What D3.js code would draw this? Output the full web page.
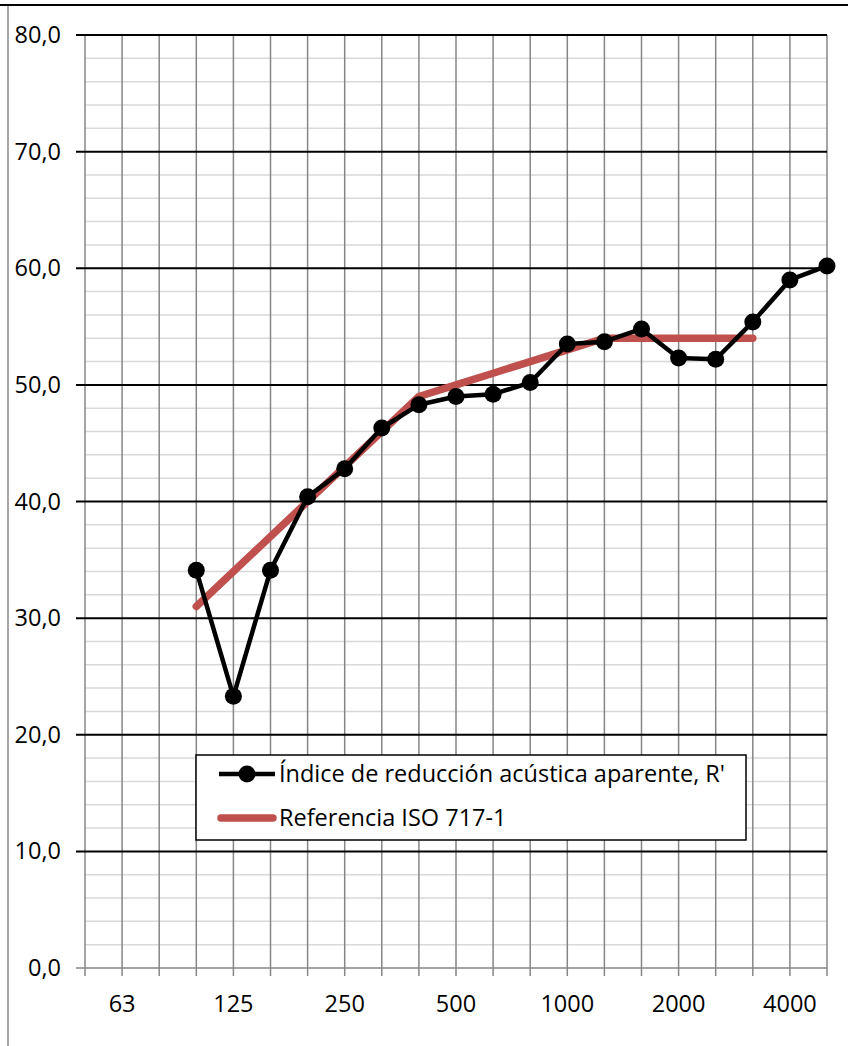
<!DOCTYPE html>
<html>
<head>
<meta charset="utf-8">
<script src="https://cdn.jsdelivr.net/npm/d3@7"></script>
<style>
  body { margin: 0; background: #fff; }
  text { font-family: "Open Sans", Lato, sans-serif; fill: #000; }
</style>
</head>
<body>
<script>
// bandas de tercio de octava (Hz)
const frecuencias = ["50","63","80","100","125","160","200","250","315","400","500","630","800","1000","1250","1600","2000","2500","3150","4000","5000"];
const etiquetasX = ["63","125","250","500","1000","2000","4000"];

// R' medido, desde 100 Hz hasta 5000 Hz
const bandasMedidas = ["100","125","160","200","250","315","400","500","630","800","1000","1250","1600","2000","2500","3150","4000","5000"];
const valoresMedidos = [34.1, 23.3, 34.1, 40.4, 42.8, 46.3, 48.3, 49.0, 49.2, 50.2, 53.5, 53.7, 54.8, 52.3, 52.2, 55.4, 59.0, 60.2];

// curva de referencia ISO 717-1 desplazada, 100 - 3150 Hz
const bandasRef = ["100","125","160","200","250","315","400","500","630","800","1000","1250","1600","2000","2500","3150"];
const valoresRef = [31, 34, 37, 40, 43, 46, 49, 50, 51, 52, 53, 54, 54, 54, 54, 54];

const ticksY = [0, 10, 20, 30, 40, 50, 60, 70, 80];

const svg = d3.select("body").append("svg")
  .attr("width", 848)
  .attr("height", 1046);

// marco del area del grafico
svg.append("line").attr("x1", 0).attr("x2", 848).attr("y1", 5).attr("y2", 5)
  .attr("stroke", "#000").attr("stroke-width", 2);
svg.append("line").attr("x1", 8).attr("x2", 8).attr("y1", 6).attr("y2", 1046)
  .attr("stroke", "#888").attr("stroke-width", 1.5);

const x = d3.scalePoint().domain(frecuencias).range([85, 827]);
const y = d3.scaleLinear().domain([0, 80]).range([968, 35]);

// lineas de division menores cada 2
const menores = d3.range(0, 81, 2).filter(v => v % 10 !== 0);
svg.append("g").selectAll("line").data(menores).join("line")
  .attr("x1", 85).attr("x2", 827)
  .attr("y1", d => y(d)).attr("y2", d => y(d))
  .attr("stroke", "#d9d9d9").attr("stroke-width", 1.5);

// lineas verticales
svg.append("g").selectAll("line").data(frecuencias).join("line")
  .attr("x1", d => x(d)).attr("x2", d => x(d))
  .attr("y1", 35).attr("y2", 976)
  .attr("stroke", "#868686").attr("stroke-width", 1.5);

// lineas principales
svg.append("g").selectAll("line").data(ticksY.filter(d => d > 0)).join("line")
  .attr("x1", 76).attr("x2", 827)
  .attr("y1", d => y(d)).attr("y2", d => y(d))
  .attr("stroke", "#000").attr("stroke-width", 2);

// eje x
svg.append("line").attr("x1", 76).attr("x2", 827).attr("y1", y(0)).attr("y2", y(0))
  .attr("stroke", "#868686").attr("stroke-width", 1.5);

// etiquetas eje y
svg.append("g").selectAll("text").data(ticksY).join("text")
  .attr("x", 61)
  .attr("y", d => y(d) + 8)
  .attr("text-anchor", "end")
  .attr("font-size", 23.5)
  .text(d => d3.format(".1f")(d).replace(".", ","));

// etiquetas eje x
svg.append("g").selectAll("text").data(etiquetasX).join("text")
  .attr("x", d => x(d))
  .attr("y", 1012)
  .attr("text-anchor", "middle")
  .attr("font-size", 23.5)
  .text(d => d);

// curva de referencia
const lineaRef = d3.line().x((d, i) => x(bandasRef[i])).y(d => y(d));
svg.append("path").datum(valoresRef)
  .attr("d", lineaRef)
  .attr("fill", "none")
  .attr("stroke", "#c0504d")
  .attr("stroke-width", 7.5)
  .attr("stroke-linecap", "round")
  .attr("stroke-linejoin", "round");

// serie medida
const lineaMedida = d3.line().x((d, i) => x(bandasMedidas[i])).y(d => y(d));
svg.append("path").datum(valoresMedidos)
  .attr("d", lineaMedida)
  .attr("fill", "none")
  .attr("stroke", "#000")
  .attr("stroke-width", 4.5)
  .attr("stroke-linejoin", "round");

svg.append("g").selectAll("circle").data(valoresMedidos).join("circle")
  .attr("cx", (d, i) => x(bandasMedidas[i]))
  .attr("cy", d => y(d))
  .attr("r", 8.5)
  .attr("fill", "#000");

// leyenda
const leyenda = svg.append("g");
leyenda.append("rect")
  .attr("x", 196).attr("y", 755).attr("width", 550).attr("height", 85)
  .attr("fill", "#fff").attr("stroke", "#000").attr("stroke-width", 1.5);

leyenda.append("line").attr("x1", 219).attr("x2", 275).attr("y1", 774).attr("y2", 774)
  .attr("stroke", "#000").attr("stroke-width", 4.5);
leyenda.append("circle").attr("cx", 247).attr("cy", 774).attr("r", 8.5).attr("fill", "#000");
leyenda.append("text").attr("x", 279).attr("y", 782).attr("font-size", 23.5)
  .text("Índice de reducción acústica aparente, R'");

leyenda.append("line").attr("x1", 221).attr("x2", 273).attr("y1", 818).attr("y2", 818)
  .attr("stroke", "#c0504d").attr("stroke-width", 7.5).attr("stroke-linecap", "round");
leyenda.append("text").attr("x", 279).attr("y", 826).attr("font-size", 23.5)
  .text("Referencia ISO 717-1");
</script>
</body>
</html>
